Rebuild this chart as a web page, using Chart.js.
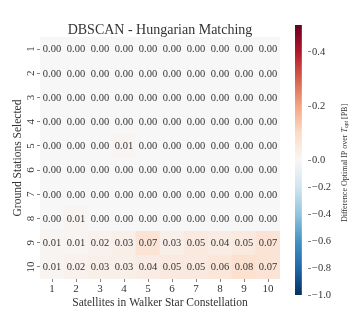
<!DOCTYPE html>
<html><head><meta charset="utf-8">
<script src="https://cdn.jsdelivr.net/npm/chart.js@4.4.1/dist/chart.umd.min.js"></script>
<style>
html,body{margin:0;padding:0;background:#fff}
#wrap{position:relative;width:360px;height:310px}
canvas{position:absolute;left:0;top:0}
</style>
</head><body>
<div id="wrap"><canvas id="main" width="360" height="310"></canvas><canvas id="cbar" width="360" height="310"></canvas></div>
<script>
// ---- data ----
const satellites = ['1','2','3','4','5','6','7','8','9','10'];
const groundStations = ['1','2','3','4','5','6','7','8','9','10'];
const gs1  = [0.00,0.00,0.00,0.00,0.00,0.00,0.00,0.00,0.00,0.00];
const gs2  = [0.00,0.00,0.00,0.00,0.00,0.00,0.00,0.00,0.00,0.00];
const gs3  = [0.00,0.00,0.00,0.00,0.00,0.00,0.00,0.00,0.00,0.00];
const gs4  = [0.00,0.00,0.00,0.00,0.00,0.00,0.00,0.00,0.00,0.00];
const gs5  = [0.00,0.00,0.00,0.01,0.00,0.00,0.00,0.00,0.00,0.00];
const gs6  = [0.00,0.00,0.00,0.00,0.00,0.00,0.00,0.00,0.00,0.00];
const gs7  = [0.00,0.00,0.00,0.00,0.00,0.00,0.00,0.00,0.00,0.00];
const gs8  = [0.00,0.01,0.00,0.00,0.00,0.00,0.00,0.00,0.00,0.00];
const gs9  = [0.01,0.01,0.02,0.03,0.07,0.03,0.05,0.04,0.05,0.07];
const gs10 = [0.01,0.02,0.03,0.03,0.04,0.05,0.05,0.06,0.08,0.07];
const rows = [gs1,gs2,gs3,gs4,gs5,gs6,gs7,gs8,gs9,gs10];
const cbTicks = [-1.0,-0.8,-0.6,-0.4,-0.2,0.0,0.2,0.4];
const vmin = -1.0, vcenter = 0.0, vmax = 0.5;

// ---- style ----
const SERIF = '"Liberation Serif", "DejaVu Serif", serif';
const TXT = '#333333';
const RDBU_R = ['#053061','#2166ac','#4393c3','#92c5de','#d1e5f0','#f7f7f7','#fddbc7','#f4a582','#d6604d','#b2182b','#67001f'];

function norm(v){
  if (v >= vcenter) return 0.5 + 0.5*(v - vcenter)/(vmax - vcenter);
  return 0.5 - 0.5*(vcenter - v)/(vcenter - vmin);
}
function hex2rgb(h){return [parseInt(h.slice(1,3),16),parseInt(h.slice(3,5),16),parseInt(h.slice(5,7),16)];}
function cmap(t){
  t = Math.max(0, Math.min(1, t));
  const n = RDBU_R.length - 1;
  const i = Math.min(n - 1, Math.floor(t*n));
  const f = t*n - i;
  const a = hex2rgb(RDBU_R[i]), b = hex2rgb(RDBU_R[i+1]);
  const c = a.map((x,k)=>Math.round(x + (b[k]-x)*f));
  return `rgb(${c[0]},${c[1]},${c[2]})`;
}
function cellColor(v){ return cmap(norm(v)); }

const datasets = rows.map((row, r) => ({
  label: 'GS ' + groundStations[r],
  data: row.map(() => [r + 0.5, r + 1.5]),
  backgroundColor: row.map(cellColor),
  borderWidth: 0,
  barPercentage: 1.0,
  categoryPercentage: 1.0,
  grouped: false
}));

const annotPlugin = {
  id: 'annot',
  afterDatasetsDraw(chart){
    const {ctx, scales:{x, y}, chartArea} = chart;
    ctx.save();
    ctx.font = '10.5px ' + SERIF;
    ctx.fillStyle = TXT;
    ctx.textAlign = 'center';
    ctx.textBaseline = 'middle';
    rows.forEach((row, r) => row.forEach((v, c) => {
      ctx.fillText(v.toFixed(2), x.getPixelForValue(c), y.getPixelForValue(r + 1) + 0.5);
    }));
    ctx.font = '14px ' + SERIF;
    ctx.textBaseline = 'alphabetic';
    ctx.fillText('DBSCAN - Hungarian Matching', (chartArea.left + chartArea.right)/2, 34);
    ctx.restore();
  }
};

new Chart(document.getElementById('main'), {
  type: 'bar',
  data: { labels: satellites, datasets },
  options: {
    responsive: false,
    animation: false,
    layout: { padding: { left: 0, right: 80, top: 37, bottom: 0 } },
    plugins: { legend: { display: false }, tooltip: { enabled: false } },
    scales: {
      x: {
        type: 'category',
        offset: true,
        grid: { offset: false, drawOnChartArea: false, drawTicks: true, tickLength: 3, color: '#666', lineWidth: 0.8 },
        border: { display: false },
        ticks: { color: TXT, font: { family: SERIF, size: 11 }, padding: 1, maxRotation: 0 },
        title: { display: true, text: 'Satellites in Walker Star Constellation', color: TXT, font: { family: SERIF, size: 11.5 }, padding: { top: 0, bottom: 0 } },
        afterFit(s){ s.height = 31; }
      },
      y: {
        type: 'linear',
        reverse: true,
        min: 0.5, max: 10.5,
        afterBuildTicks(s){ s.ticks = groundStations.map((g, i) => ({ value: i + 1 })); },
        grid: { drawOnChartArea: false, drawTicks: true, tickLength: 3, color: '#666', lineWidth: 0.8 },
        border: { display: false },
        ticks: { color: TXT, font: { family: SERIF, size: 11 }, padding: 0.5, minRotation: 90, maxRotation: 90,
                 crossAlign: 'center',
                 callback: (v) => groundStations[Math.round(v) - 1] },
        title: { display: true, text: 'Ground Stations Selected', color: TXT, font: { family: SERIF, size: 11.5 }, padding: { top: 11, bottom: 0 } },
        afterFit(s){ s.width = 40; }
      }
    }
  },
  plugins: [annotPlugin]
});

// ---- colorbar ----
const cbLabelPlugin = {
  id: 'cblabel',
  afterDraw(chart){
    const {ctx, chartArea} = chart;
    const parts = [
      { t: 'Difference Optimal IP over ', f: '8px ' + SERIF, dy: 0 },
      { t: 'T', f: 'italic 8px ' + SERIF, dy: 0 },
      { t: 'opt', f: 'italic 5.5px ' + SERIF, dy: 2 },
      { t: ' [PB]', f: '8px ' + SERIF, dy: 0 }
    ];
    ctx.save();
    let total = 0;
    parts.forEach(p => { ctx.font = p.f; p.w = ctx.measureText(p.t).width; total += p.w; });
    const cy = (chartArea.top + chartArea.bottom)/2 + 3;
    ctx.translate(345, cy);
    ctx.rotate(-Math.PI/2);
    ctx.fillStyle = TXT;
    ctx.textBaseline = 'middle';
    ctx.textAlign = 'left';
    let xx = -total/2;
    parts.forEach(p => { ctx.font = p.f; ctx.fillText(p.t, xx, p.dy); xx += p.w; });
    ctx.restore();
  }
};

new Chart(document.getElementById('cbar'), {
  type: 'bar',
  data: { labels: ['cb'], datasets: [{
    data: [[0, 1]],
    barPercentage: 1.0, categoryPercentage: 1.0, borderWidth: 0,
    backgroundColor(ctx){
      const ca = ctx.chart.chartArea;
      if (!ca) return '#f7f7f7';
      const g = ctx.chart.ctx.createLinearGradient(0, ca.bottom, 0, ca.top);
      RDBU_R.forEach((c, i) => g.addColorStop(i/(RDBU_R.length - 1), c));
      return g;
    }
  }]},
  options: {
    responsive: false,
    animation: false,
    layout: { padding: { left: 295, right: 22, top: 25, bottom: 15 } },
    plugins: { legend: { display: false }, tooltip: { enabled: false } },
    scales: {
      x: { display: false, offset: false },
      y: {
        position: 'right',
        min: 0, max: 1,
        afterBuildTicks(s){ s.ticks = cbTicks.map(v => ({ value: norm(v) })); },
        grid: { drawOnChartArea: false, drawTicks: true, tickLength: 3, color: '#666', lineWidth: 0.8 },
        border: { display: false },
        ticks: { color: TXT, font: { family: SERIF, size: 10.5 }, padding: 1,
                 callback: (v, i) => { const t = cbTicks[i]; return (t < 0 ? '\u2212' : '') + Math.abs(t).toFixed(1); } },
        afterFit(s){ s.width = 30; }
      }
    }
  },
  plugins: [cbLabelPlugin]
});
</script>
</body></html>
